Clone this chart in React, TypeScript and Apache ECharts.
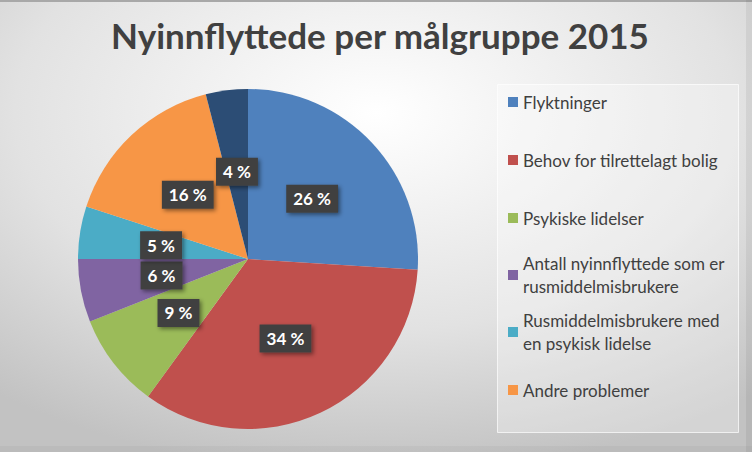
import React, { useEffect, useRef } from "react";
import * as echarts from "echarts";

const title = "Nyinnflyttede per målgruppe 2015";
const categories = [
  "Flyktninger",
  "Behov for tilrettelagt bolig",
  "Psykiske lidelser",
  "Antall nyinnflyttede som er rusmiddelmisbrukere",
  "Rusmiddelmisbrukere med en psykisk lidelse",
  "Andre problemer",
  "Øvrige",
];
const values = [26, 34, 9, 6, 5, 16, 4];
const colors = ["#4F81BD", "#C0504D", "#9BBB59", "#8064A2", "#4BACC6", "#F79646", "#2C4D75"];
const legendLines: Record<string, string[]> = {
  "Antall nyinnflyttede som er rusmiddelmisbrukere": ["Antall nyinnflyttede som er", "rusmiddelmisbrukere"],
  "Rusmiddelmisbrukere med en psykisk lidelse": ["Rusmiddelmisbrukere med", "en psykisk lidelse"],
};
const legendCenters = [102, 160, 218, 275, 332, 390];

const FONT = "Lato, 'Open Sans', sans-serif";

export default function App() {
  const ref = useRef<HTMLDivElement>(null);
  useEffect(() => {
    document.body.style.margin = "0";
    const chart = echarts.init(ref.current!, null, { renderer: "svg" });
    const LH = 23;
    const legends = categories.slice(0, 6).map((name, i) => {
      const lines = legendLines[name] || [name];
      const two = lines.length > 1;
      return {
        data: [name],
        orient: "vertical",
        left: 508,
        top: two ? legendCenters[i] - LH * 1.5 : legendCenters[i] - LH / 2,
        padding: 0,
        icon: "rect",
        itemWidth: 10,
        itemHeight: 10,
        selectedMode: false,
        formatter: () => lines.join("\n"),
        textStyle: {
          fontFamily: FONT,
          fontSize: 17,
          color: "#404040",
          lineHeight: LH,
          padding: two ? [LH, 0, 0, 0] : 0,
        },
      };
    });
    chart.setOption({
      animation: false,
      color: colors,
      title: {
        text: title,
        left: 375,
        textAlign: "center",
        top: 12,
        textStyle: { fontFamily: FONT, fontSize: 35, fontWeight: "bold", color: "#404040" },
      },
      graphic: [
        {
          type: "rect",
          z: -10,
          silent: true,
          shape: { x: 0, y: 0, width: 752, height: 452 },
          style: {
            fill: new echarts.graphic.RadialGradient(0.5, 0.25, 0.8, [
              { offset: 0, color: "#ffffff" },
              { offset: 0.6, color: "#e2e2e2" },
              { offset: 1, color: "#c2c2c2" },
            ]),
          },
        },
        { type: "rect", z: -9, silent: true, shape: { x: 0, y: 0, width: 752, height: 2 }, style: { fill: "#a8a8a8" } },
        { type: "rect", z: -9, silent: true, shape: { x: 746, y: 0, width: 6, height: 452 }, style: { fill: "rgba(0,0,0,0.06)" } },
        { type: "rect", z: -9, silent: true, shape: { x: 0, y: 446, width: 752, height: 6 }, style: { fill: "rgba(0,0,0,0.03)" } },
        {
          type: "rect",
          z: -8,
          silent: true,
          shape: { x: 497.5, y: 84.5, width: 241, height: 348 },
          style: { fill: "rgba(255,255,255,0.3)", stroke: "rgba(255,255,255,0.7)", lineWidth: 1 },
        },
      ],
      legend: legends,
      series: [
        {
          type: "pie",
          center: [248, 259],
          radius: 170,
          startAngle: 90,
          clockwise: true,
          avoidLabelOverlap: false,
          minShowLabelAngle: 0,
          data: categories.map((name, i) => ({ name, value: values[i] })),
          itemStyle: { borderWidth: 0 },
          emphasis: { disabled: true },
          labelLine: { show: false },
          label: {
            show: true,
            position: "inside",
            formatter: (p: any) => p.value + " %",
            fontFamily: FONT,
            fontSize: 17,
            fontWeight: "bold",
            color: "#ffffff",
            backgroundColor: "#404040",
            padding: [6, 7, 5, 7],
            shadowBlur: 4,
            shadowColor: "rgba(0,0,0,0.45)",
            shadowOffsetX: 2,
            shadowOffsetY: 2,
          },
        },
      ],
    });
    return () => chart.dispose();
  }, []);
  return <div ref={ref} style={{ width: 752, height: 452 }} />;
}
